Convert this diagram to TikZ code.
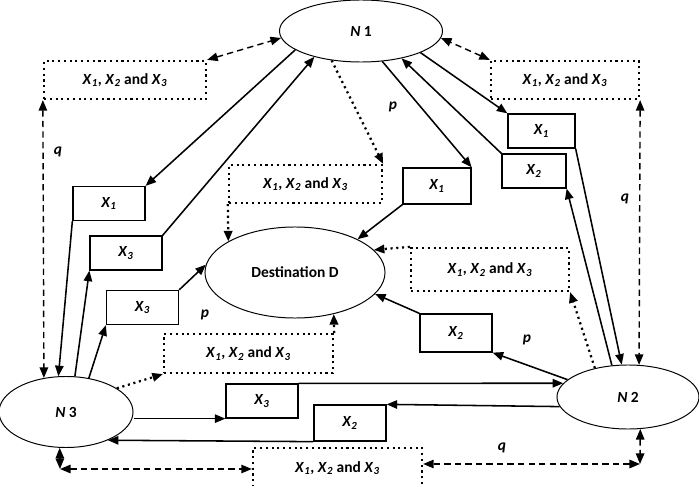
\documentclass[tikz,border=0pt]{standalone}
\usepackage{fontspec}
\setmainfont{Carlito}
\usetikzlibrary{shapes.geometric, arrows.meta}

\newcommand{\xv}[1]{\textit{X}\textsubscript{\textit{#1}}}
\newcommand{\allx}{\xv{1}, \xv{2} and \xv{3}}

\begin{document}
\begin{tikzpicture}[x=0.025cm, y=-0.025cm,
            every node/.style={font=\fontsize{11}{13}\selectfont\bfseries},
            station/.style={draw, ellipse, line width=0.7pt, inner sep=0pt},
            packet/.style={draw, rectangle, line width=0.9pt, minimum width=1.8cm, minimum height=0.85cm, inner sep=0pt},
            bundle/.style={draw, rectangle, line width=1.6pt, dash pattern=on 1.5pt off 2.6pt, minimum width=4cm, minimum height=0.95cm, inner sep=0pt},
            arrow/.style={line width=1.1pt, ->, >={Triangle[length=7.5pt, width=6pt]}},
            dotarrow/.style={arrow, line width=1.6pt, dash pattern=on 1.5pt off 2.6pt},
            dasharrow/.style={line width=1pt, <->, >={Triangle[length=7.5pt, width=6pt]}, dash pattern=on 4.5pt off 3pt}]

            \useasboundingbox (0,0) rectangle (699,486);

            % Nodes and destination
            \node (n1) [station, minimum width=4.075cm, minimum height=1.55cm] at (361,31) {\textit{N} 1};
            \node (dest) [station, minimum width=4.5cm, minimum height=2.275cm] at (295,272.5) {Destination D};
            \node (n3) [station, minimum width=3.35cm, minimum height=1.775cm] at (66,412) {\textit{N} 3};
            \node (n2) [station, minimum width=3.55cm, minimum height=1.6cm] at (628,397) {\textit{N} 2};

            % Packets
            \node (x1L) [packet] at (109,203.5) {\xv{1}};
            \node (x3U) [packet] at (126,253) {\xv{3}};
            \node (x3L) [packet] at (142.5,307.5) {\xv{3}};
            \node (x1C) [packet, minimum width=1.7cm, minimum height=0.9cm] at (437,186) {\xv{1}};
            \node (x1R) [packet, minimum width=1.675cm] at (541.5,131) {\xv{1}};
            \node (x2R) [packet, minimum width=1.6cm] at (534,171) {\xv{2}};
            \node (x2C) [packet, minimum height=0.95cm] at (456,333) {\xv{2}};
            \node (x3B) [packet] at (262,401) {\xv{3}};
            \node (x2B) [packet, minimum height=0.9cm] at (350,423) {\xv{2}};

            % Bundles
            \node (bTL) [bundle, minimum width=4.05cm] at (125,80) {\allx};
            \node (bTR) [bundle, minimum width=3.7cm] at (565,80) {\allx};
            \node (bCT) [bundle, minimum width=3.825cm] at (305.5,184) {\allx};
            \node (bRM) [bundle, minimum width=3.95cm, minimum height=1.075cm] at (490,269.5) {\allx};
            \node (bCL) [bundle, minimum width=4.225cm, minimum height=0.975cm] at (248.5,353.5) {\allx};
            \node (bB) [bundle, minimum width=4.225cm, minimum height=1cm] at (337.5,468) {\allx};

            % Labels
            \node (p1) at (393,107) {\textit{p}};
            \node (p2) at (205,315) {\textit{p}};
            \node (p3) at (527,340) {\textit{p}};
            \node (q1) at (58,152) {\textit{q}};
            \node (q2) at (625,199) {\textit{q}};
            \node (q3) at (502,448) {\textit{q}};

            % Solid links
            \draw [arrow] (n1.196) -- (x1L.north east);
            \draw [arrow] (x1L.south west) -- (n3.102);
            \draw [arrow] (n3.76) -- (x3U.south west);
            \draw [arrow] (x3U.north east) -- (n1.209);
            \draw [arrow] (n3.56) -- (x3L.south west);
            \draw [arrow] (x3L.north east) -- (dest.175);
            \draw [arrow] (n1.305) -- (x1C.north east);
            \draw [arrow] (x1C.south west) -- (dest.28);
            \draw [arrow] (n1.340) -- (x1R.north west);
            \draw [arrow] (x1R.south east) -- (n2.101);
            \draw [arrow] (n2.117) -- (x2R.south east);
            \draw [arrow] (x2R.north west) -- (n1.326);
            \draw [arrow] (n2.164) -- (x2C.south east);
            \draw [arrow] (x2C.north west) -- (dest.345);
            \draw [arrow] (n3.east |- x3B.south west) -- (x3B.south west);
            \draw [arrow] (x3B.north east) -- (n2.168);
            \draw [arrow] (n2.188) -- (x2B.north east);
            \draw [arrow] (x2B.south west) -- (n3.326);

            % Dotted links
            \draw [dotarrow] (n1.225) -- (bCT.north east);
            \draw [dotarrow] (bCT.south west) -- (dest.155);
            \draw [dotarrow] (bRM.north west) -- (dest.16);
            \draw [dotarrow] (n2.139) -- (bRM.south east);
            \draw [dotarrow] (n3.25) -- (bCL.south west);
            \draw [dotarrow] (bCL.north east) -- (dest.313);

            % Dashed links
            \coordinate (cL) at (60,469);
            \coordinate (cR) at (640,464);
            \draw [dasharrow] (bTL.north east) -- (n1.185);
            \draw [dasharrow] (bTR.north west) -- (n1.355);
            \draw [dasharrow] (bTL.south west) -- (n3.123);
            \draw [dasharrow] (bTR.south east) -- (n2.71);
            \draw [dasharrow] (n3.260) -- (cL);
            \draw [dasharrow] (cL) -- (cL -| bB.west);
            \draw [dasharrow] (n2.291) -- (cR);
            \draw [dasharrow] (cR) -- (cR -| bB.east);
\end{tikzpicture}
\end{document}
